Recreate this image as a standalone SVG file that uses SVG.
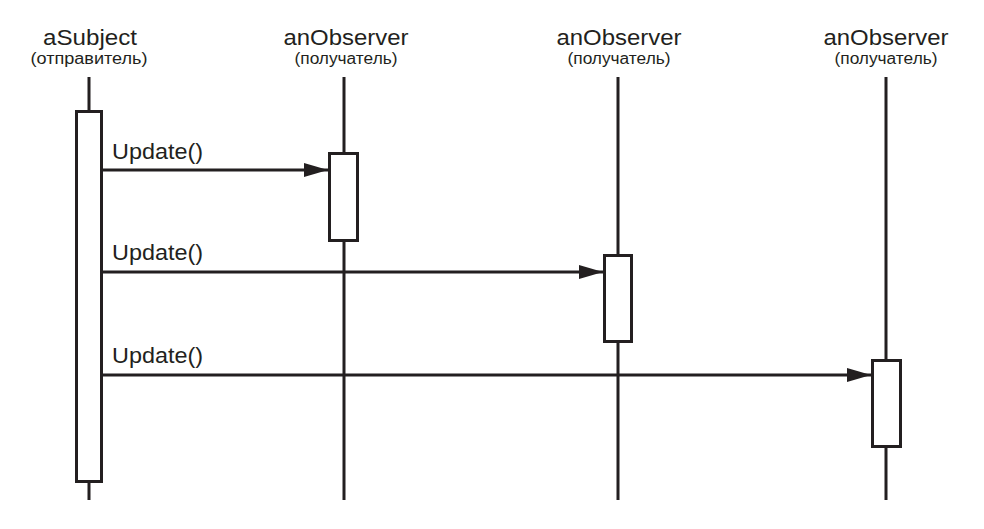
<svg xmlns="http://www.w3.org/2000/svg" width="984" height="529" viewBox="0 0 984 529">
<style>
.t{font-family:"Liberation Sans",Arial,sans-serif;fill:#231f20;text-anchor:middle}
.n{font-size:22px}
.s{font-size:16px}
.m{font-family:"Liberation Sans",Arial,sans-serif;fill:#231f20;font-size:22px}
.life{stroke:#231f20;stroke-width:3;fill:none}
.act{stroke:#231f20;stroke-width:3;fill:#fff}
.msg{stroke:#231f20;stroke-width:3;fill:none}
</style>
<defs>
<marker id="ah" viewBox="0 0 24 14" refX="24" refY="7" markerWidth="24" markerHeight="14" markerUnits="userSpaceOnUse" orient="auto">
<path d="M0,0 L24,7 L0,14 Z" fill="#231f20"/>
</marker>
</defs>
<g id="subject">
<text class="t n" x="90" y="45" textLength="94" lengthAdjust="spacingAndGlyphs">aSubject</text>
<text class="t s" x="89" y="64" textLength="117" lengthAdjust="spacingAndGlyphs">(отправитель)</text>
<line class="life" x1="89" y1="77" x2="89" y2="500"/>
<rect class="act" x="76.5" y="111.5" width="25" height="370"/>
</g>
<g id="observer1">
<text class="t n" x="346" y="45" textLength="125" lengthAdjust="spacingAndGlyphs">anObserver</text>
<text class="t s" x="346" y="64" textLength="103" lengthAdjust="spacingAndGlyphs">(получатель)</text>
<line class="life" x1="344" y1="77" x2="344" y2="500"/>
<rect class="act" x="329.5" y="153.5" width="28" height="87"/>
</g>
<g id="observer2">
<text class="t n" x="619" y="45" textLength="125" lengthAdjust="spacingAndGlyphs">anObserver</text>
<text class="t s" x="619" y="64" textLength="103" lengthAdjust="spacingAndGlyphs">(получатель)</text>
<line class="life" x1="618" y1="77" x2="618" y2="500"/>
<rect class="act" x="604.5" y="255.5" width="27" height="86"/>
</g>
<g id="observer3">
<text class="t n" x="886" y="45" textLength="125" lengthAdjust="spacingAndGlyphs">anObserver</text>
<text class="t s" x="886" y="64" textLength="103" lengthAdjust="spacingAndGlyphs">(получатель)</text>
<line class="life" x1="886" y1="77" x2="886" y2="500"/>
<rect class="act" x="872.5" y="360.5" width="28" height="86"/>
</g>
<g id="connectors">
<line class="msg" x1="103" y1="170" x2="328" y2="170" marker-end="url(#ah)"/>
<text class="m" x="112" y="159" textLength="91" lengthAdjust="spacingAndGlyphs">Update()</text>
<line class="msg" x1="103" y1="272" x2="603" y2="272" marker-end="url(#ah)"/>
<text class="m" x="112" y="260" textLength="91" lengthAdjust="spacingAndGlyphs">Update()</text>
<line class="msg" x1="103" y1="375" x2="871" y2="375" marker-end="url(#ah)"/>
<text class="m" x="112" y="363" textLength="91" lengthAdjust="spacingAndGlyphs">Update()</text>
</g>
</svg>
